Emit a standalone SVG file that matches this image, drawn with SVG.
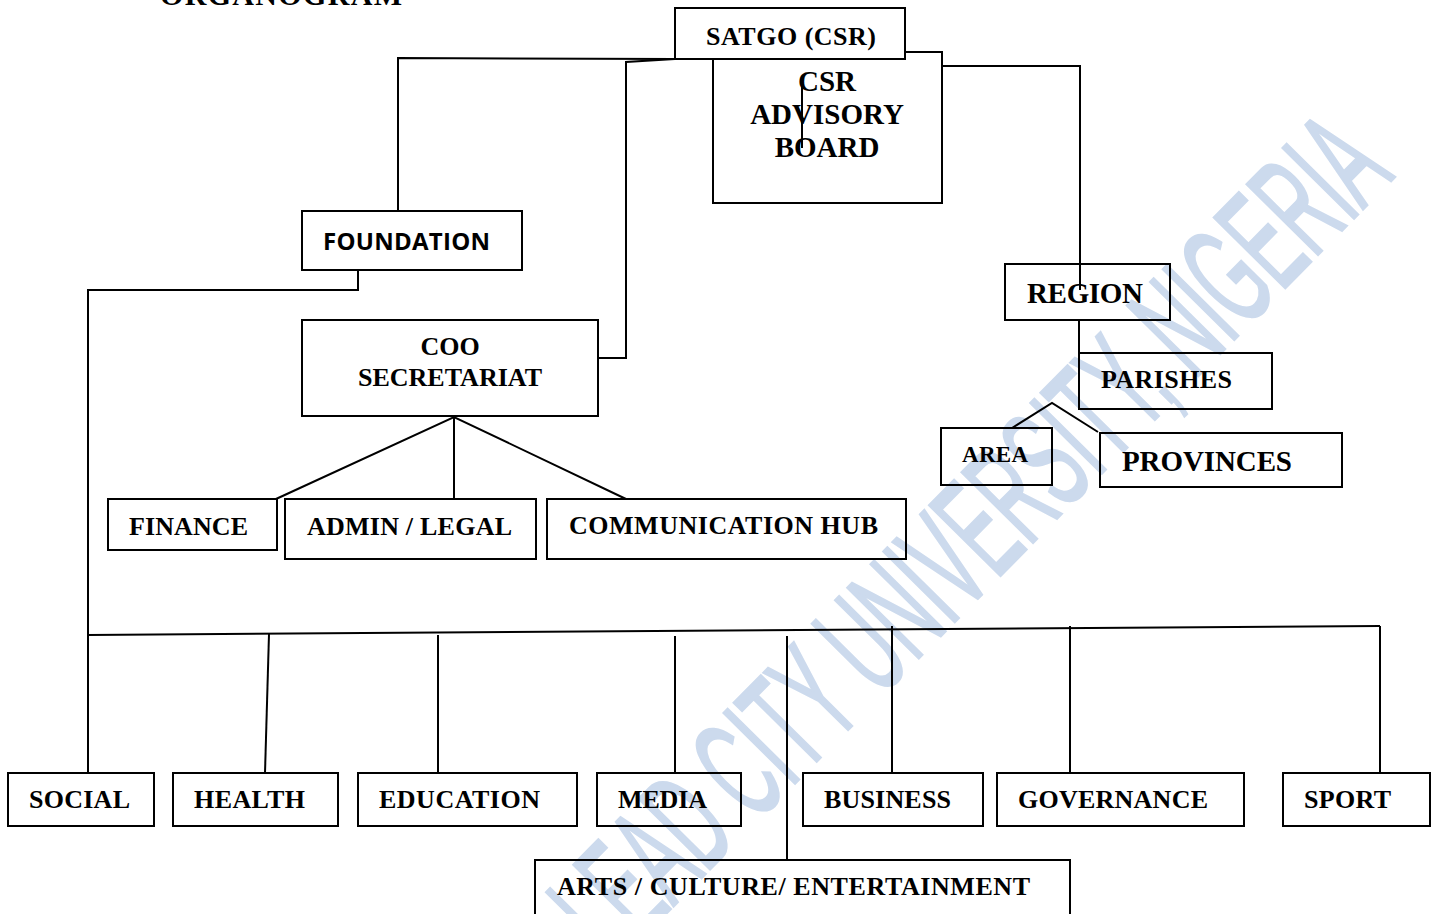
<svg xmlns="http://www.w3.org/2000/svg" width="1431" height="914" viewBox="0 0 1431 914">
<style>
.bx{fill:none;stroke:#000;stroke-width:2}
.ln{fill:none;stroke:#000;stroke-width:2}
.t{font-family:"Liberation Serif","Times New Roman",serif;font-weight:bold;font-size:26px;fill:#000}
.t29{font-size:29px}
.t23{font-size:23px}
.s{font-family:"Open Sans","Liberation Sans",sans-serif;font-weight:bold;font-size:24px;fill:#000}
.wm{font-family:"Liberation Sans",Arial,sans-serif;font-weight:normal;font-size:145px;fill:#ccdaed;stroke:#ccdaed;stroke-width:3}
</style>
<rect width="1431" height="914" fill="#fff"/>
<text class="wm" transform="translate(613,967) rotate(-45.3)" textLength="1112" lengthAdjust="spacingAndGlyphs">LEAD CITY UNIVERSITY, NIGERIA</text>
<text class="t" x="160" y="5" style="font-size:30px" textLength="242">ORGANOGRAM</text>
<g id="connectors">
<polyline class="ln" points="675,59 398,58 398,211"/>
<polyline class="ln" points="675,59 626,62 626,358 598,358"/>
<polyline class="ln" points="942,66 1080,66 1080,290"/>
<polyline class="ln" points="1079,320 1079,353"/>
<line class="ln" x1="802" y1="86" x2="802" y2="148"/>
<polyline class="ln" points="1012,428 1052,403 1098,432"/>
<polyline class="ln" points="276,499 454,417 626,499"/>
<line class="ln" x1="454" y1="417" x2="454" y2="499"/>
<polyline class="ln" points="358,270 358,290 88,290 88,773"/>
<line class="ln" x1="88" y1="635" x2="1380" y2="626"/>
<polyline class="ln" points="1380,626 1380,773"/>
<line class="ln" x1="269" y1="634" x2="265" y2="773"/>
<line class="ln" x1="438" y1="635" x2="438" y2="773"/>
<line class="ln" x1="675" y1="636" x2="675" y2="773"/>
<line class="ln" x1="787" y1="636" x2="787" y2="860"/>
<line class="ln" x1="892" y1="626" x2="892" y2="773"/>
<line class="ln" x1="1070" y1="626" x2="1070" y2="773"/>
</g>
<g id="csr-board"><rect class="bx" x="713" y="52" width="229" height="151"/>
<text class="t t29" x="827" y="91" text-anchor="middle">CSR</text>
<text class="t t29" x="827" y="124" text-anchor="middle">ADVISORY</text>
<text class="t t29" x="827" y="157" text-anchor="middle">BOARD</text></g>
<g id="satgo"><rect x="675" y="8" width="230" height="51" fill="#fff" stroke="#000" stroke-width="2"/>
<text class="t" x="706" y="45" textLength="170">SATGO (CSR)</text></g>
<g id="foundation"><rect class="bx" x="302" y="211" width="220" height="59"/>
<text class="s" x="323" y="250" textLength="167">FOUNDATION</text></g>
<g id="coo"><rect class="bx" x="302" y="320" width="296" height="96"/>
<text class="t" x="450" y="355" text-anchor="middle">COO</text>
<text class="t" x="450" y="386" text-anchor="middle">SECRETARIAT</text></g>
<g id="finance"><rect class="bx" x="108" y="499" width="169" height="51"/>
<text class="t" x="129" y="535" textLength="119">FINANCE</text></g>
<g id="admin"><rect class="bx" x="285" y="499" width="251" height="60"/>
<text class="t" x="307" y="535" textLength="205">ADMIN / LEGAL</text></g>
<g id="comm"><rect class="bx" x="547" y="499" width="359" height="60"/>
<text class="t" x="569" y="534" textLength="309">COMMUNICATION HUB</text></g>
<g id="region"><rect class="bx" x="1005" y="264" width="165" height="56"/>
<text class="t t29" x="1027" y="303" textLength="116">REGION</text></g>
<g id="parishes"><rect class="bx" x="1079" y="353" width="193" height="56"/>
<text class="t" x="1101" y="388" textLength="131">PARISHES</text></g>
<g id="area"><rect class="bx" x="941" y="428" width="111" height="57"/>
<text class="t t23" x="962" y="462" textLength="66">AREA</text></g>
<g id="provinces"><rect class="bx" x="1100" y="433" width="242" height="54"/>
<text class="t t29" x="1122" y="471" textLength="170">PROVINCES</text></g>
<g id="social"><rect class="bx" x="8" y="773" width="146" height="53"/>
<text class="t" x="29" y="808" textLength="101">SOCIAL</text></g>
<g id="health"><rect class="bx" x="173" y="773" width="165" height="53"/>
<text class="t" x="194" y="808" textLength="111">HEALTH</text></g>
<g id="education"><rect class="bx" x="358" y="773" width="219" height="53"/>
<text class="t" x="379" y="808" textLength="161">EDUCATION</text></g>
<g id="media"><rect class="bx" x="597" y="773" width="144" height="53"/>
<text class="t" x="618" y="808" textLength="89">MEDIA</text></g>
<g id="business"><rect class="bx" x="803" y="773" width="180" height="53"/>
<text class="t" x="824" y="808" textLength="127">BUSINESS</text></g>
<g id="governance"><rect class="bx" x="997" y="773" width="247" height="53"/>
<text class="t" x="1018" y="808" textLength="190">GOVERNANCE</text></g>
<g id="sport"><rect class="bx" x="1283" y="773" width="147" height="53"/>
<text class="t" x="1304" y="808" textLength="87">SPORT</text></g>
<g id="arts"><rect class="bx" x="535" y="860" width="535" height="62"/>
<text class="t" x="557" y="895" textLength="473">ARTS / CULTURE/ ENTERTAINMENT</text></g>
</svg>
